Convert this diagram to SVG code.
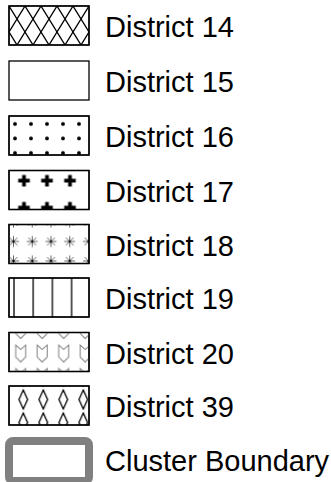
<svg xmlns="http://www.w3.org/2000/svg" width="331" height="482" viewBox="0 0 331 482">
<style>
.box{stroke:#000;stroke-width:1.3;}
.fillonly{stroke:none;}
.lbl{font-family:"Liberation Sans",Arial,sans-serif;font-size:29px;fill:#000;}
</style>
<defs>
<pattern id="p14" patternUnits="userSpaceOnUse" x="9" y="6" width="16" height="26">
<path d="M-8,-13 L24,39 M24,-13 L-8,39" stroke="#000" stroke-width="1.3" fill="none"/>
</pattern>
<pattern id="p16" patternUnits="userSpaceOnUse" x="9" y="116" width="16" height="14.5">
<circle cx="6" cy="8" r="1.9" fill="#000"/>
</pattern>
<pattern id="p17" patternUnits="userSpaceOnUse" x="12.5" y="170.5" width="23" height="27">
<path d="M9.65,4.4 h3.7 v3.95 h3.95 v3.7 h-3.95 v3.95 h-3.7 v-3.95 h-3.95 v-3.7 h3.95 Z" fill="#000"/>
</pattern>
<pattern id="p18" patternUnits="userSpaceOnUse" x="4.125" y="212.25" width="18.75" height="19.5">
<g stroke="#555" stroke-width="0.9">
<path d="M3.875,9.75 h11 M9.375,4.25 v11 M5.5,5.9 L13.25,13.6 M13.25,5.9 L5.5,13.6"/>
</g>
<circle cx="9.375" cy="9.75" r="1.1" fill="#000"/>
</pattern>
<pattern id="p19" patternUnits="userSpaceOnUse" x="4.4" y="0" width="19.2" height="40">
<path d="M9.6,-1 V41" stroke="#000" stroke-width="1.3"/>
</pattern>
<pattern id="p20" patternUnits="userSpaceOnUse" x="10.7" y="342" width="21.5" height="23.5">
<path d="M5,3 L10,7.5 L15,3 L15,15 L10,20 L5,15 Z" stroke="#808080" stroke-width="1" fill="none"/>
</pattern>
<pattern id="p39" patternUnits="userSpaceOnUse" x="13.3" y="388" width="20" height="23">
<path d="M10,2 L14.3,11.5 L10,21 L5.7,11.5 Z" stroke="#000" stroke-width="1.3" fill="none"/>
</pattern>
</defs>
<g id="district14">
<rect class="box" x="9" y="6" width="80" height="39" fill="#fff"/>
<rect class="box" x="9" y="6" width="80" height="39" fill="url(#p14)"/>
<text class="lbl" x="105" y="37">District 14</text>
</g>
<g id="district15">
<rect class="box" x="9" y="61" width="80" height="39" fill="#fff"/>
<text class="lbl" x="105" y="92">District 15</text>
</g>
<g id="district16">
<rect class="box" x="9" y="116" width="80" height="39" fill="#fff"/>
<rect class="box" x="9" y="116" width="80" height="39" fill="url(#p16)"/>
<text class="lbl" x="105" y="147">District 16</text>
</g>
<g id="district17">
<rect class="box" x="9" y="170.5" width="80" height="39" fill="#fff"/>
<rect class="fillonly" x="9" y="170.5" width="77" height="39" fill="url(#p17)"/>
<rect class="box" x="9" y="170.5" width="80" height="39" fill="none"/>
<text class="lbl" x="105" y="201.5">District 17</text>
</g>
<g id="district18">
<rect class="box" x="9" y="224.5" width="80" height="39" fill="#fff"/>
<rect class="box" x="9" y="224.5" width="80" height="39" fill="url(#p18)"/>
<text class="lbl" x="105" y="255.5">District 18</text>
</g>
<g id="district19">
<rect class="box" x="9" y="278" width="80" height="39" fill="#fff"/>
<rect class="box" x="9" y="278" width="80" height="39" fill="url(#p19)"/>
<text class="lbl" x="105" y="309">District 19</text>
</g>
<g id="district20">
<rect class="box" x="9" y="332.5" width="80" height="39" fill="#fff"/>
<rect class="box" x="9" y="332.5" width="80" height="39" fill="url(#p20)"/>
<text class="lbl" x="105" y="363.5">District 20</text>
</g>
<g id="district39">
<rect class="box" x="9" y="386" width="80" height="39" fill="#fff"/>
<rect class="box" x="9" y="386" width="80" height="39" fill="url(#p39)"/>
<text class="lbl" x="105" y="417">District 39</text>
</g>
<g id="cluster">
<rect x="9" y="441" width="80" height="40" rx="4" fill="#fff" stroke="#808080" stroke-width="8"/>
<text class="lbl" x="105" y="471">Cluster Boundary</text>
</g>
<g id="connectors"/>
</svg>
